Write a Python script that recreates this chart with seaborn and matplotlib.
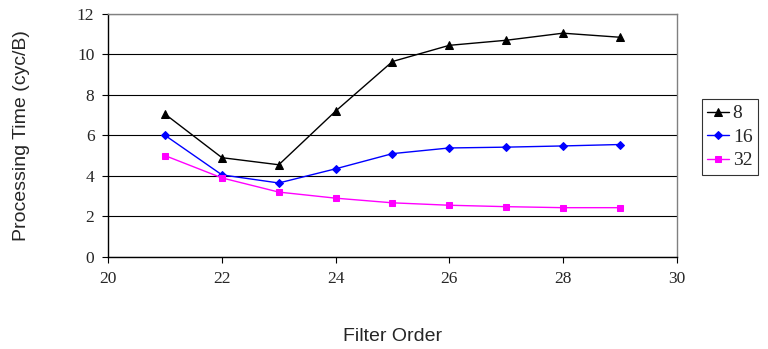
import matplotlib
matplotlib.use("Agg")
import matplotlib.pyplot as plt
import numpy as np
import pandas as pd
import seaborn as sns

sns.set_style("white")

# data
filter_order = [21, 22, 23, 24, 25, 26, 27, 28, 29]
time_8 = [7.05, 4.9, 4.55, 7.2, 9.65, 10.45, 10.7, 11.05, 10.85]
time_16 = [6.0, 4.05, 3.65, 4.35, 5.1, 5.38, 5.42, 5.48, 5.55]
time_32 = [5.0, 3.9, 3.2, 2.9, 2.67, 2.55, 2.48, 2.43, 2.43]

df = pd.DataFrame({
    "Filter Order": filter_order * 3,
    "Time": time_8 + time_16 + time_32,
    "Block": ["8"] * 9 + ["16"] * 9 + ["32"] * 9,
})

palette = {"8": "black", "16": "#0000ff", "32": "#ff00ff"}
markers = {"8": "^", "16": "D", "32": "s"}
sizes = {"8": 6, "16": 4.5, "32": 5}

fig = plt.figure(figsize=(7.68, 3.49), dpi=100)
ax = fig.add_axes([0.141, 0.264, 0.74, 0.696])

for name in ["8", "16", "32"]:
    sub = df[df["Block"] == name]
    sns.lineplot(data=sub, x="Filter Order", y="Time", ax=ax, color=palette[name],
                 marker=markers[name], markersize=sizes[name], markeredgecolor=palette[name],
                 linewidth=1.0, label=name)

ax.set_xlim(20, 30)
ax.set_ylim(0, 12)
ax.set_xticks(np.arange(20, 31, 2))
ax.set_yticks(np.arange(0, 13, 2))
ax.yaxis.grid(True, color="black", linewidth=0.8)
ax.xaxis.grid(False)
for s in ax.spines.values():
    s.set_color("#808080")
    s.set_linewidth(1.0)
ax.spines["left"].set_color("black")
ax.spines["bottom"].set_color("black")
ax.tick_params(axis="both", direction="out", length=4, width=0.8, color="black",
               labelsize=12.5, pad=6, bottom=True, left=True)
for lbl in ax.get_xticklabels() + ax.get_yticklabels():
    lbl.set_family("Liberation Serif")

ax.set_xlabel("Filter Order", fontsize=14, family="Liberation Sans", labelpad=30)
ax.set_ylabel("Processing Time (cyc/B)", fontsize=14, family="Liberation Sans", labelpad=34)

leg = ax.legend(loc="upper left", bbox_to_anchor=(1.044, 0.65), frameon=True, fancybox=False,
                edgecolor="black", handlelength=1.1, handletextpad=0.2, borderpad=0.3,
                borderaxespad=0, labelspacing=0.3,
                prop={"family": "Liberation Serif", "size": 14})
leg.get_frame().set_linewidth(0.8)

fig.savefig("out.png", dpi=100)
